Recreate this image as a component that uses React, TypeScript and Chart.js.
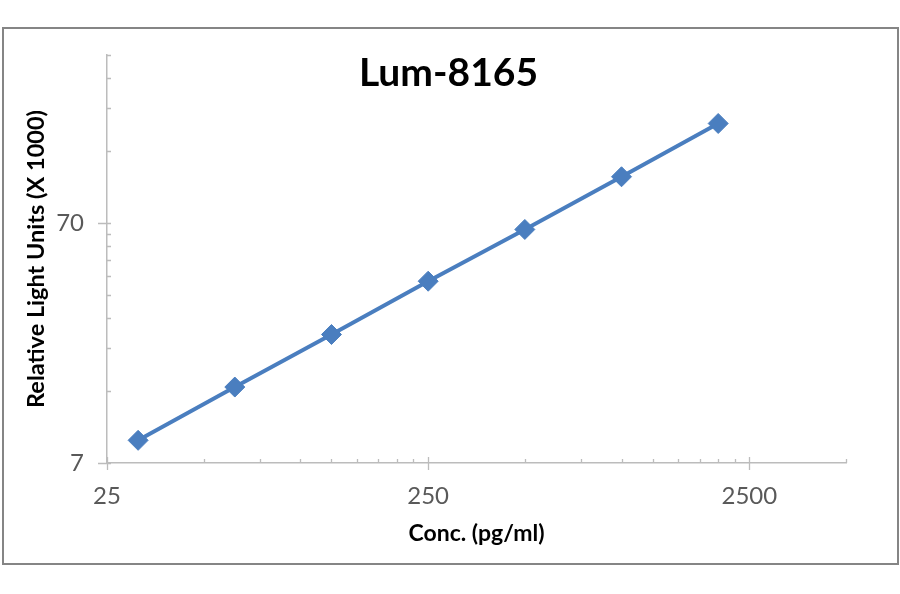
import { useEffect, useRef } from 'react'
import { Chart, registerables } from 'chart.js'

Chart.register(...registerables)

// standard curve: concentration (pg/ml) vs RLU (x 1000)
const CONC = [31.25, 62.5, 125, 250, 500, 1000, 2000]
const RLU = [8.7, 14.5, 24.0, 40.0, 65.7, 108.9, 181.5]

const X_TICKS = [25, 50, 75, 100, 125, 150, 175, 200, 225, 250, 500, 750, 1000, 1250, 1500, 1750, 2000, 2250, 2500, 5000]
const X_LABELS = [25, 250, 2500]
const Y_TICKS = [7, 14, 21, 28, 35, 42, 49, 56, 63, 70, 140, 210, 280, 350]
const Y_LABELS = [7, 70]

const FONT = 'Lato, "Open Sans", sans-serif'
const BLUE = '#4a7ebf'
const AXIS = '#bcbcbc'

// Excel-style tick marks: majors cross the axis, minors sit inside
const tickMarks = {
  id: 'tickMarks',
  afterDraw(chart: any) {
    const { ctx, chartArea: area } = chart
    const xs = chart.scales.x
    const ys = chart.scales.y
    ctx.save()
    ctx.strokeStyle = AXIS
    ctx.lineWidth = 1.3
    ctx.beginPath()
    X_TICKS.forEach((v) => {
      const px = Math.round(xs.getPixelForValue(v)) + 0.5
      if (X_LABELS.includes(v)) {
        ctx.moveTo(px, area.bottom - 6)
        ctx.lineTo(px, area.bottom + 7)
      } else {
        ctx.moveTo(px, area.bottom)
        ctx.lineTo(px, area.bottom - 4)
      }
    })
    Y_TICKS.forEach((v) => {
      const py = Math.round(ys.getPixelForValue(v)) + 0.5
      if (Y_LABELS.includes(v)) {
        ctx.moveTo(area.left - 9, py)
        ctx.lineTo(area.left + 4, py)
      } else {
        ctx.moveTo(area.left, py)
        ctx.lineTo(area.left + 4, py)
      }
    })
    ctx.stroke()
    ctx.restore()
  },
}

export default function App() {
  const canvasRef = useRef<HTMLCanvasElement>(null)
  const chartRef = useRef<Chart | null>(null)

  useEffect(() => {
    document.body.style.margin = '0'
    if (!canvasRef.current) return
    chartRef.current?.destroy()
    chartRef.current = new Chart(canvasRef.current, {
      type: 'line',
      data: {
        datasets: [{
          data: CONC.map((c, i) => ({ x: c, y: RLU[i] })),
          borderColor: BLUE,
          backgroundColor: BLUE,
          borderWidth: 4,
          pointStyle: 'rectRot',
          pointRadius: 10,
          pointBorderWidth: 1,
          pointBorderColor: BLUE,
          pointBackgroundColor: BLUE,
          tension: 0,
          clip: false,
        }],
      },
      options: {
        responsive: false,
        animation: false,
        layout: { padding: { left: 0, right: 54, top: 55, bottom: 0 } },
        plugins: {
          legend: { display: false },
          title: { display: false },
          tooltip: { enabled: false },
        },
        scales: {
          x: {
            type: 'logarithmic',
            min: 25,
            max: 5000,
            afterBuildTicks: (s: any) => { s.ticks = X_TICKS.map((v) => ({ value: v })) },
            afterFit: (s: any) => { s.height = 131 },
            grid: { display: false, drawTicks: false },
            border: { display: true, color: AXIS, width: 1.5 },
            ticks: {
              autoSkip: false,
              maxRotation: 0,
              padding: 19,
              color: '#595959',
              font: { family: FONT, size: 24 },
              callback: (v: any) => (X_LABELS.includes(Number(v)) ? String(v) : ''),
            },
            title: {
              display: true,
              text: 'Conc. (pg/ml)',
              color: '#000',
              font: { family: FONT, size: 23, weight: 'bold' },
              padding: { bottom: 47 },
            },
          },
          y: {
            type: 'logarithmic',
            min: 7,
            max: 350,
            afterBuildTicks: (s: any) => { s.ticks = Y_TICKS.map((v) => ({ value: v })) },
            afterFit: (s: any) => { s.width = 107 },
            grid: { display: false, drawTicks: false },
            border: { display: true, color: AXIS, width: 1.5 },
            ticks: {
              autoSkip: false,
              padding: 23,
              color: '#595959',
              font: { family: FONT, size: 24 },
              callback: (v: any) => (Y_LABELS.includes(Number(v)) ? String(v) : ''),
            },
            title: {
              display: true,
              text: 'Relative Light Units (X 1000)',
              color: '#000',
              font: { family: FONT, size: 23.5, weight: 'bold' },
              padding: { top: 22 },
            },
          },
        },
      },
      plugins: [tickMarks],
    })
    return () => { chartRef.current?.destroy(); chartRef.current = null }
  }, [])

  return (
    <div style={{ position: 'relative', width: 900, height: 594, background: '#fff', fontFamily: FONT }}>
      <canvas ref={canvasRef} width={900} height={594} style={{ position: 'absolute', left: 0, top: 0 }} />
      <div style={{
        position: 'absolute', left: 2, top: 27, width: 897, height: 538,
        border: '2px solid #858585', boxSizing: 'border-box', pointerEvents: 'none',
      }} />
      <div style={{
        position: 'absolute', left: 0, width: 900, top: 49, textAlign: 'center',
        fontSize: 39, lineHeight: '44px', fontWeight: 'bold', color: '#000',
        pointerEvents: 'none',
      }}>
        <span style={{ marginLeft: -3 }}>Lum-8165</span>
      </div>
    </div>
  )
}
